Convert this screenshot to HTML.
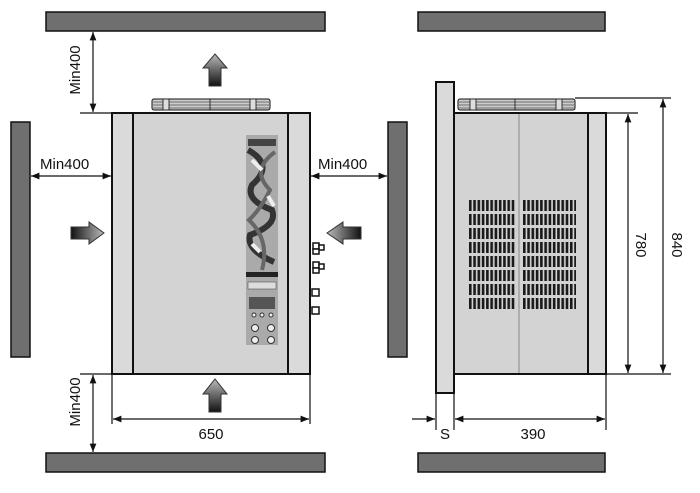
<!DOCTYPE html>
<html><head><meta charset="utf-8"><style>
html,body{margin:0;padding:0;background:#fff;width:700px;height:493px;overflow:hidden}
svg{display:block}
text{font-family:"Liberation Sans","DejaVu Sans",sans-serif;fill:#111}
</style></head><body>
<svg width="700" height="493" viewBox="0 0 700 493" xmlns="http://www.w3.org/2000/svg">
<defs>
<linearGradient id="ah" x1="0" y1="0" x2="1" y2="0"><stop offset="0" stop-color="#111"/><stop offset="1" stop-color="#bbb"/></linearGradient>
<linearGradient id="ahr" x1="1" y1="0" x2="0" y2="0"><stop offset="0" stop-color="#111"/><stop offset="1" stop-color="#bbb"/></linearGradient>
<linearGradient id="av" x1="0" y1="1" x2="0" y2="0"><stop offset="0" stop-color="#111"/><stop offset="1" stop-color="#bbb"/></linearGradient>
<marker id="m" viewBox="0 0 10 10" refX="10" refY="5" markerWidth="7" markerHeight="7" orient="auto-start-reverse"><path d="M0,1 L10,5 L0,9 z" fill="#111"/></marker>
<pattern id="slot" x="469" y="200" width="4.27" height="14" patternUnits="userSpaceOnUse"><rect x="0" y="0" width="2.6" height="11" fill="#1a1a1a"/></pattern>
<pattern id="slot2" x="523" y="200" width="4.27" height="14" patternUnits="userSpaceOnUse"><rect x="0" y="0" width="2.6" height="11" fill="#1a1a1a"/></pattern>
</defs>
<g stroke="#111" stroke-width="1.5" fill="#6f6f6f">
<rect x="46" y="12" width="279" height="19"/>
<rect x="46" y="453" width="279" height="19"/>
<rect x="11" y="122" width="19" height="235"/>
<rect x="388" y="122" width="19" height="235"/>
<rect x="418" y="12" width="187" height="19"/>
<rect x="418" y="453" width="187" height="19"/>
</g>
<!-- front unit -->
<g stroke="#111">
<rect x="152" y="99" width="118" height="11" rx="2" fill="#ccc" stroke-width="1"/>
<line x1="153" y1="102" x2="269" y2="102" stroke-width="0.6"/><line x1="153" y1="105" x2="269" y2="105" stroke-width="0.6"/><line x1="153" y1="108" x2="269" y2="108" stroke-width="0.6"/>
<line x1="210" y1="99" x2="210" y2="110" stroke-width="0.8"/>
<rect x="163" y="99" width="6" height="11" fill="#ddd" stroke-width="0.8"/><rect x="250" y="99" width="6" height="11" fill="#ddd" stroke-width="0.8"/>
<rect x="112" y="113" width="198" height="261" fill="#d3d3d3" stroke-width="2"/>
<rect x="112" y="113" width="21" height="261" fill="#dadada" stroke-width="2"/>
<rect x="288" y="113" width="22" height="261" fill="#dadada" stroke-width="2"/>
</g>
<!-- control panel -->
<g>
<rect x="246" y="135" width="32" height="210" fill="#aaa"/>
<rect x="248" y="139" width="28" height="7" fill="#444"/>
<path d="M248,150 Q275,165 252,185 Q245,200 272,210 Q278,225 250,235 Q246,250 274,262" stroke="#333" stroke-width="6" fill="none"/>
<path d="M275,152 Q250,170 270,190 Q260,210 249,220 Q270,240 262,270" stroke="#666" stroke-width="4" fill="none"/>
<path d="M252,160 L262,170 M268,196 L274,206 M252,244 L260,252" stroke="#eee" stroke-width="4"/>
<rect x="246" y="272" width="32" height="5" fill="#222"/>
<rect x="248" y="282" width="28" height="7" fill="#ddd" stroke="#555" stroke-width="0.6"/>
<rect x="249" y="297" width="26" height="12" fill="#555"/>
<circle cx="254" cy="315" r="2" fill="#eee" stroke="#333"/><circle cx="262" cy="315" r="2" fill="#eee" stroke="#333"/><circle cx="271" cy="315" r="2" fill="#eee" stroke="#333"/>
<circle cx="255" cy="328" r="3.5" fill="#eee" stroke="#333"/><circle cx="271" cy="328" r="3.5" fill="#eee" stroke="#333"/>
<circle cx="255" cy="340" r="3.5" fill="#eee" stroke="#333"/><circle cx="271" cy="340" r="3.5" fill="#eee" stroke="#333"/>
</g>
<!-- connectors -->
<g stroke="#111" stroke-width="1.5" fill="#fff">
<rect x="313" y="243" width="6" height="6"/><rect x="319" y="245" width="5" height="5"/><rect x="313" y="249" width="6" height="5"/>
<rect x="313" y="262" width="6" height="6"/><rect x="319" y="264" width="5" height="5"/><rect x="313" y="268" width="6" height="5"/>
<rect x="312" y="289" width="7" height="7"/><rect x="312" y="307" width="7" height="7"/>
</g>
<!-- airflow arrows -->
<path d="M209,86 L209,68 L203,68 L215,54 L227,68 L221,68 L221,86 Z" fill="url(#av)" stroke="#333"/>
<path d="M209,412 L209,394 L203,394 L215,379 L227,394 L221,394 L221,412 Z" fill="url(#av)" stroke="#333"/>
<path d="M71,227 L89,227 L89,222 L104,233 L89,244 L89,239 L71,239 Z" fill="url(#ah)" stroke="#333"/>
<path d="M361,227 L343,227 L343,222 L327,233 L343,244 L343,239 L361,239 Z" fill="url(#ahr)" stroke="#333"/>
<!-- dimensions front -->
<g stroke="#111" stroke-width="1.2" fill="none">
<line x1="80" y1="113" x2="112" y2="113"/>
<line x1="93" y1="32" x2="93" y2="112" marker-start="url(#m)" marker-end="url(#m)"/>
<line x1="80" y1="374" x2="112" y2="374"/>
<line x1="93" y1="375" x2="93" y2="452" marker-start="url(#m)" marker-end="url(#m)"/>
<line x1="31" y1="176" x2="111" y2="176" marker-start="url(#m)" marker-end="url(#m)"/>
<line x1="311" y1="176" x2="387" y2="176" marker-start="url(#m)" marker-end="url(#m)"/>
<line x1="112" y1="375" x2="112" y2="424"/><line x1="310" y1="375" x2="310" y2="424"/>
<line x1="113" y1="419" x2="309" y2="419" marker-start="url(#m)" marker-end="url(#m)"/>
</g>
<text x="40" y="169" font-size="15">Min400</text>
<text x="318" y="169" font-size="15">Min400</text>
<text transform="translate(80,70) rotate(-90)" text-anchor="middle" font-size="15">Min400</text>
<text transform="translate(80,402) rotate(-90)" text-anchor="middle" font-size="15">Min400</text>
<text x="211" y="439" text-anchor="middle" font-size="15">650</text>
<!-- side view -->
<g stroke="#111">
<rect x="458" y="99" width="117" height="11" rx="2" fill="#ccc" stroke-width="1"/>
<line x1="459" y1="102" x2="574" y2="102" stroke-width="0.6"/><line x1="459" y1="105" x2="574" y2="105" stroke-width="0.6"/><line x1="459" y1="108" x2="574" y2="108" stroke-width="0.6"/>
<line x1="515" y1="99" x2="515" y2="110" stroke-width="0.8"/>
<rect x="470" y="99" width="6" height="11" fill="#ddd" stroke-width="0.8"/><rect x="556" y="99" width="6" height="11" fill="#ddd" stroke-width="0.8"/>
<rect x="454" y="113" width="152" height="261" fill="#d3d3d3" stroke-width="2"/>
<rect x="588" y="113" width="18" height="261" fill="#dadada" stroke-width="2"/>
<line x1="519" y1="114" x2="519" y2="373" stroke="#888" stroke-width="1"/>
<rect x="436" y="82" width="18" height="311" fill="#dadada" stroke-width="2"/>
</g>
<rect x="469" y="200" width="47" height="110" fill="url(#slot)"/>
<rect x="523" y="200" width="53" height="110" fill="url(#slot2)"/>
<g stroke="#111" stroke-width="1.2" fill="none">
<line x1="606" y1="113" x2="638" y2="113"/>
<line x1="575" y1="98" x2="671" y2="98"/>
<line x1="606" y1="374" x2="671" y2="374"/>
<line x1="628" y1="114" x2="628" y2="373" marker-start="url(#m)" marker-end="url(#m)"/>
<line x1="663" y1="99" x2="663" y2="373" marker-start="url(#m)" marker-end="url(#m)"/>
<line x1="436" y1="393" x2="436" y2="430"/><line x1="454" y1="374" x2="454" y2="430"/><line x1="606" y1="374" x2="606" y2="430"/>
<line x1="412" y1="419" x2="435" y2="419" marker-end="url(#m)"/>
<line x1="455" y1="419" x2="605" y2="419" marker-start="url(#m)" marker-end="url(#m)"/>
</g>
<text transform="translate(636,245) rotate(90)" text-anchor="middle" font-size="15">780</text>
<text transform="translate(672,245) rotate(90)" text-anchor="middle" font-size="15">840</text>
<text x="445" y="439" text-anchor="middle" font-size="15">S</text>
<text x="533" y="439" text-anchor="middle" font-size="15">390</text>
</svg>
</body></html>
